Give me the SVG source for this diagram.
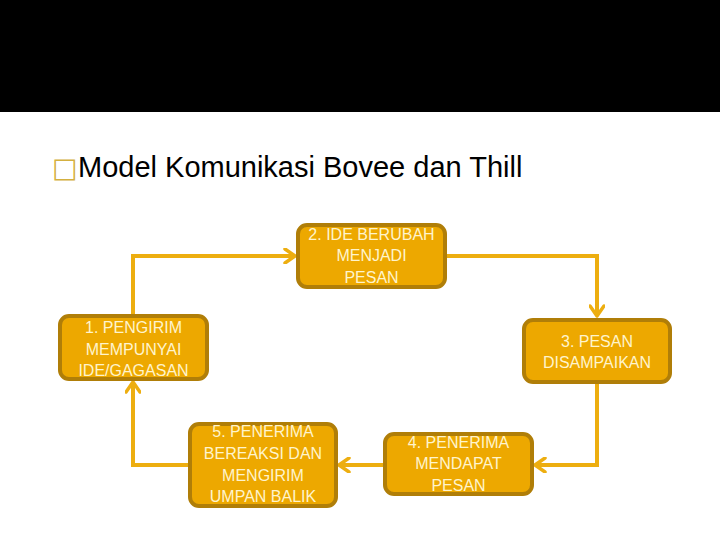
<svg xmlns="http://www.w3.org/2000/svg" width="720" height="540" viewBox="0 0 720 540">
<defs>
<style>
.node rect{fill:#EDA800;stroke:#B07E08;stroke-width:4}
.node text{font-family:"Liberation Sans",Arial,sans-serif;font-size:16px;fill:#FFF4CC;text-anchor:middle}
.conn{fill:none;stroke:#EDAE10;stroke-width:4}
</style>
<marker id="arr" viewBox="0 0 14 16" refX="12" refY="8" markerWidth="14" markerHeight="16" markerUnits="userSpaceOnUse" orient="auto">
<path d="M2,1 L12,8 L2,15" fill="none" stroke="#EDAE10" stroke-width="3.5" stroke-linecap="round" stroke-linejoin="round"/>
</marker>
</defs>
<rect x="0" y="0" width="720" height="540" fill="#FFFFFF"/>
<rect x="0" y="0" width="720" height="112" fill="#000000"/>
<text x="52" y="177" font-family="'Liberation Sans',Arial,sans-serif" font-size="29" fill="#000000"><tspan font-family="'DejaVu Sans',sans-serif" font-size="27" fill="#D4B040">□</tspan><tspan x="78">Model Komunikasi Bovee dan Thill</tspan></text>
<g id="connectors">
<path class="conn" d="M133,315 V256 H295" marker-end="url(#arr)"/>
<path class="conn" d="M445,256 H597 V316" marker-end="url(#arr)"/>
<path class="conn" d="M597,383 V465 H535" marker-end="url(#arr)"/>
<path class="conn" d="M383,465 H339" marker-end="url(#arr)"/>
<path class="conn" d="M188,465 H133 V382" marker-end="url(#arr)"/>
</g>
<g id="node1" class="node">
<rect x="60" y="316" width="147" height="63" rx="9"/>
<text x="133.5" y="333">1. PENGIRIM</text>
<text x="133.5" y="355">MEMPUNYAI</text>
<text x="133.5" y="376">IDE/GAGASAN</text>
</g>
<g id="node2" class="node">
<rect x="298" y="225" width="147" height="62" rx="9"/>
<text x="371.5" y="240">2. IDE BERUBAH</text>
<text x="371.5" y="261">MENJADI</text>
<text x="371.5" y="283">PESAN</text>
</g>
<g id="node3" class="node">
<rect x="524" y="320" width="146" height="62" rx="9"/>
<text x="597" y="347">3. PESAN</text>
<text x="597" y="368">DISAMPAIKAN</text>
</g>
<g id="node4" class="node">
<rect x="385" y="434" width="147" height="60" rx="9"/>
<text x="458.5" y="448">4. PENERIMA</text>
<text x="458.5" y="469">MENDAPAT</text>
<text x="458.5" y="491">PESAN</text>
</g>
<g id="node5" class="node">
<rect x="190" y="424" width="146" height="82" rx="9"/>
<text x="263" y="437">5. PENERIMA</text>
<text x="263" y="459">BEREAKSI DAN</text>
<text x="263" y="481">MENGIRIM</text>
<text x="263" y="502">UMPAN BALIK</text>
</g>
</svg>
